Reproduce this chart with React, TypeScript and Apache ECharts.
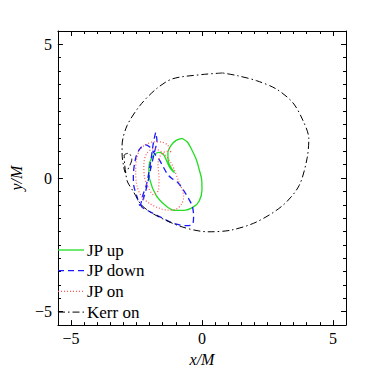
import React, { useEffect, useRef } from "react";
import * as echarts from "echarts";

// tick values
const majorTicks = [-5, 0, 5];
const minorTicks = [
  -5, -4.5, -4, -3.5, -3, -2.5, -2, -1.5, -1, -0.5, 0, 0.5, 1, 1.5, 2, 2.5, 3, 3.5, 4, 4.5, 5,
];

// series names
const seriesNames = ["JP up", "JP down", "JP on", "Kerr on"];
const seriesColors = ["#22dd22", "#1a1aff", "#ff5555", "#000000"];

// JP up (green solid)
const jpUp: number[][] = [
  [-0.75, 1.48], [-0.55, 1.34], [-0.38, 1.04], [-0.22, 0.7], [-0.1, 0.3], [-0.01, -0.07],
  [0.0, -0.45], [-0.1, -0.85], [-0.32, -1.08], [-0.7, -1.21], [-1.07, -1.21], [-1.38, -1.04],
  [-1.75, -0.65], [-2.0, -0.03], [-2.03, 0.4], [-1.9, 0.78], [-1.65, 0.96], [-1.47, 0.88],
  [-1.34, 0.62], [-1.2, 0.35], [-1.05, 0.2], [-1.12, 0.3], [-1.28, 0.6], [-1.3, 0.95],
  [-1.18, 1.22], [-1.0, 1.4], [-0.75, 1.48],
];

// JP down (blue dashed)
const jpDown: number[][] = [
  [-1.77, 1.7], [-1.85, 1.35], [-1.9, 1.0], [-1.96, 0.6], [-2.03, 0.2], [-2.12, -0.25],
  [-2.25, -0.62], [-2.37, -1.02], [-2.48, -0.7], [-2.6, -0.3], [-2.62, 0.1], [-2.58, 0.5],
  [-2.5, 0.85], [-2.38, 1.08], [-2.18, 1.25], [-1.98, 1.15], [-1.8, 0.9], [-1.62, 0.67],
  [-1.48, 0.42], [-1.3, 0.12], [-1.1, -0.05], [-0.94, -0.15], [-0.7, -0.46], [-0.51, -0.77],
  [-0.37, -1.05], [-0.32, -1.4], [-0.36, -1.74], [-0.63, -1.78], [-1.13, -1.68],
  [-1.5, -1.5], [-1.87, -1.32], [-2.1, -1.2], [-2.32, -1.05], [-2.22, -0.72], [-2.1, -0.3],
  [-1.97, 0.3], [-1.83, 0.9], [-1.72, 1.42], [-1.77, 1.7],
];

// JP on (red dotted)
const jpOn: number[][] = [
  [-1.19, 0.98], [-1.31, 1.23], [-1.56, 1.35], [-1.87, 1.35], [-2.18, 1.23], [-2.38, 1.04],
  [-2.5, 0.7], [-2.53, 0.2], [-2.48, -0.3], [-2.3, -0.7], [-2.0, -0.95], [-1.65, -1.12],
  [-1.3, -1.2], [-1.0, -1.17], [-0.78, -0.98], [-0.7, -0.7], [-0.75, -0.45], [-0.9, -0.1],
  [-1.05, 0.3], [-1.2, 0.6], [-1.5, 0.95], [-1.85, 1.1], [-2.12, 0.9], [-2.22, 0.5],
  [-2.2, 0.05], [-2.05, -0.35], [-1.85, -0.62], [-1.66, -0.45], [-1.64, 0.0], [-1.68, 0.5],
  [-1.58, 0.85], [-1.35, 1.0], [-1.19, 0.98],
];

// Kerr on (black dash-dot)
const kerrOn: number[][] = [
  [0.79, 3.93], [-0.01, 3.87], [-1.13, 3.71], [-1.75, 3.33], [-2.37, 2.71], [-2.86, 1.96],
  [-3.05, 1.22], [-3.05, 0.9], [-3.0, 0.5], [-2.92, 0.2], [-2.78, 0.42], [-2.68, 0.7],
  [-2.8, 0.93], [-2.97, 0.85], [-2.95, 0.5], [-2.9, 0.1], [-2.84, -0.15], [-2.61, -0.52],
  [-2.3, -1.02], [-1.75, -1.4], [-0.75, -1.83], [0.23, -2.01], [1.1, -1.95], [2.09, -1.64],
  [3.09, -1.02], [3.71, -0.28], [4.01, 0.72], [4.08, 1.47], [3.83, 2.21], [3.46, 2.83],
  [2.84, 3.33], [2.09, 3.64], [1.35, 3.83], [0.79, 3.93],
];

const FONT = '"Times New Roman", "Liberation Serif", serif';

const lineWidths = [1.3, 1.3, 1.2, 1];
const lineDashes: any[] = ["solid", [6, 4], [1, 2], [7, 3, 1.5, 3]];

export default function App() {
  const ref = useRef<HTMLDivElement>(null);
  useEffect(() => {
    if (!ref.current) return;
    const chart = echarts.init(ref.current, null, { renderer: "svg" });
    const fmt = (v: number) => (v < 0 ? "\u2212" + Math.abs(v) : String(v));
    const mkAxis = (pos: string, major: boolean, labels: boolean, name: string, isY: boolean) => ({
      type: "value",
      min: -5.5,
      max: 5.5,
      position: pos,
      axisLine: { show: major, onZero: false, lineStyle: { color: "#000", width: 1 } },
      axisTick: {
        show: true,
        inside: true,
        length: major ? 5 : 3,
        customValues: major ? majorTicks : minorTicks,
        lineStyle: { color: "#000", width: 1 },
      },
      axisLabel: {
        show: labels,
        customValues: majorTicks,
        formatter: fmt,
        fontFamily: FONT,
        fontSize: 16,
        color: "#000",
        margin: isY ? 6 : 5,
      },
      splitLine: { show: false },
      ...(labels
        ? {
            name,
            nameLocation: "middle",
            nameGap: isY ? 28 : 24,
            nameRotate: isY ? 90 : 0,
            nameTextStyle: { fontFamily: FONT, fontSize: 16, fontStyle: "italic", color: "#000" },
          }
        : {}),
    });

    const legendTop = 250;
    const legendStep = 20.7;
    const legendGraphics: any[] = [];
    seriesNames.forEach((n, i) => {
      const y = legendTop + i * legendStep;
      legendGraphics.push({
        type: "line",
        shape: { x1: 58, y1: y, x2: 84, y2: y },
        style: {
          stroke: seriesColors[i],
          lineWidth: lineWidths[i],
          lineDash: lineDashes[i] === "solid" ? null : lineDashes[i],
        },
        z: 10,
      });
      legendGraphics.push({
        type: "text",
        x: 87,
        y: y,
        style: {
          text: n,
          fill: "#000",
          fontFamily: FONT,
          fontSize: 17,
          verticalAlign: "middle",
          align: "left",
        },
        z: 10,
      });
    });

    chart.setOption({
      animation: false,
      backgroundColor: "#fff",
      grid: { left: 50, right: 36, top: 31, bottom: 46, containLabel: false },
      xAxis: [
        mkAxis("bottom", true, true, "x/M", false),
        mkAxis("bottom", false, false, "", false),
        mkAxis("top", true, false, "", false),
        mkAxis("top", false, false, "", false),
      ],
      yAxis: [
        mkAxis("left", true, true, "y/M", true),
        mkAxis("left", false, false, "", true),
        mkAxis("right", true, false, "", true),
        mkAxis("right", false, false, "", true),
      ],
      graphic: legendGraphics,
      series: [jpUp, jpDown, jpOn, kerrOn].map((d, i) => ({
        name: seriesNames[i],
        type: "line",
        data: d,
        showSymbol: false,
        symbol: "none",
        smooth: 0.3,
        lineStyle: { color: seriesColors[i], width: lineWidths[i], type: lineDashes[i] },
        itemStyle: { color: seriesColors[i] },
      })),
    });
    return () => chart.dispose();
  }, []);
  return (
    <div
      ref={ref}
      style={{ position: "fixed", left: 0, top: 0, width: 382, height: 372, background: "#fff" }}
    />
  );
}
